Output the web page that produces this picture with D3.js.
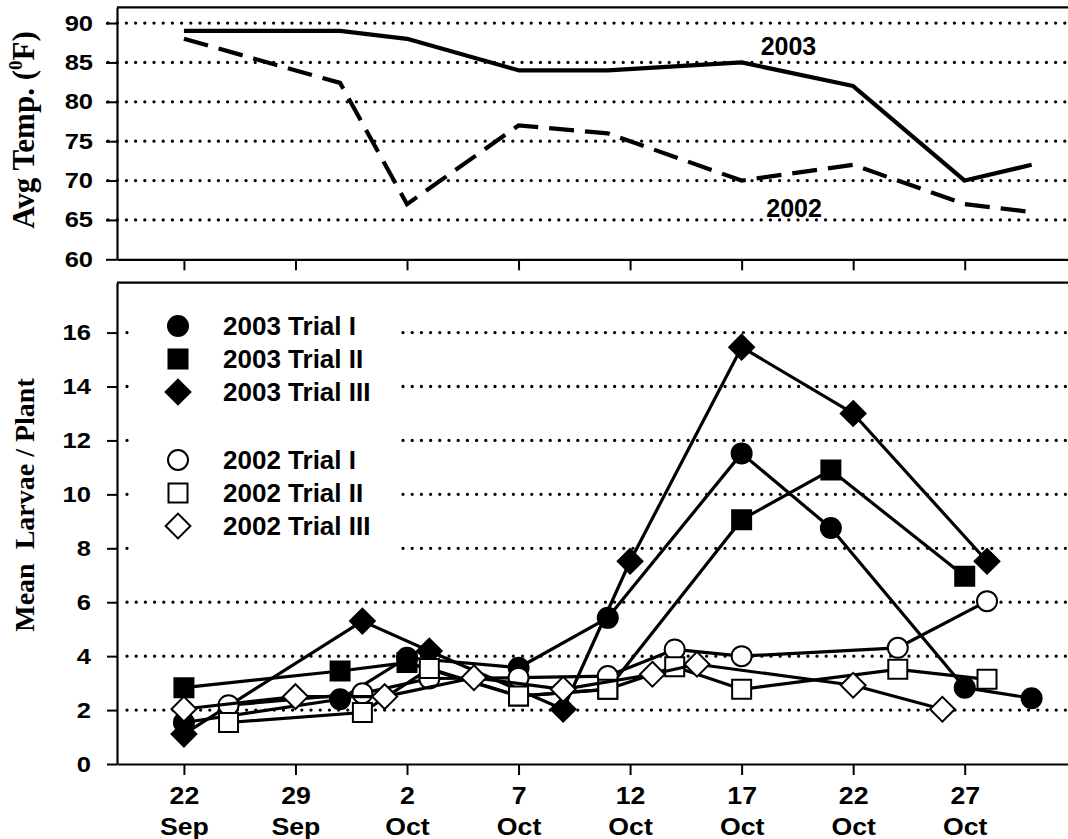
<!DOCTYPE html>
<html>
<head>
<meta charset="utf-8">
<script src="https://cdn.jsdelivr.net/npm/d3@7"></script>
<style>
  body { margin: 0; background: #fff; }
  svg { display: block; }
  .sans { font-family: "Liberation Sans", Arial, sans-serif; font-weight: bold; fill: #000; }
  .serif { font-family: "Liberation Serif", "Times New Roman", serif; font-weight: bold; fill: #000; }
</style>
</head>
<body>
<div id="chart"></div>
<script>
// x values are days counted from the first tick (22 Sep)
const TICK_DAYS = [0, 5, 10, 15, 20, 25, 30, 35];
const TICK_DATES = ['22', '29', '2', '7', '12', '17', '22', '27'];
const TICK_MONTHS = ['Sep', 'Sep', 'Oct', 'Oct', 'Oct', 'Oct', 'Oct', 'Oct'];
const TEMP_TICKS = [60, 65, 70, 75, 80, 85, 90];
const LARVAE_TICKS = [0, 2, 4, 6, 8, 10, 12, 14, 16];

// avg temperature
const TEMP_DAYS = [0, 7, 10, 15, 19, 25, 30, 35, 38];
const TEMP_2003 = [89, 89, 88, 84, 84, 85, 82, 70, 72];
const TEMP_2002 = [88, 82.4, 67, 77, 76, 70, 72, 67, 66];

// mean larvae per plant
const T03_I_DAYS = [0, 7, 10, 15, 19, 25, 29, 35, 38];
const T03_I = [1.54, 2.4, 3.94, 3.57, 5.42, 11.52, 8.75, 2.83, 2.44];
const T03_II_DAYS = [0, 7, 10, 15, 19, 25, 29, 35];
const T03_II = [2.83, 3.45, 3.76, 2.52, 2.77, 9.06, 10.9, 6.96];
const T03_III_DAYS = [0, 8, 11, 17, 20, 25, 30, 36];
const T03_III = [1.11, 5.3, 4.19, 2.03, 7.52, 15.46, 13.0, 7.52];
const T02_I_DAYS = [2, 8, 11, 15, 19, 22, 25, 32, 36];
const T02_I = [2.18, 2.62, 3.17, 3.2, 3.26, 4.25, 4.0, 4.31, 6.04];
const T02_II_DAYS = [2, 8, 11, 15, 19, 22, 25, 32, 36];
const T02_II = [1.54, 1.91, 3.54, 2.52, 2.77, 3.61, 2.77, 3.51, 3.14];
const T02_III_DAYS = [0, 5, 9, 13, 17, 21, 23, 30, 34];
const T02_III = [2.04, 2.5, 2.5, 3.2, 2.77, 3.33, 3.7, 2.92, 2.03];

const SERIES = [
  { name: '2003 Trial I', days: T03_I_DAYS, vals: T03_I, shape: 'circle', fill: '#000' },
  { name: '2003 Trial II', days: T03_II_DAYS, vals: T03_II, shape: 'square', fill: '#000' },
  { name: '2003 Trial III', days: T03_III_DAYS, vals: T03_III, shape: 'diamond', fill: '#000' },
  { name: '2002 Trial I', days: T02_I_DAYS, vals: T02_I, shape: 'circle', fill: '#fff' },
  { name: '2002 Trial II', days: T02_II_DAYS, vals: T02_II, shape: 'square', fill: '#fff' },
  { name: '2002 Trial III', days: T02_III_DAYS, vals: T02_III, shape: 'diamond', fill: '#fff' }
];

const W = 1068, H = 839;
const LEFT = 117;
const TOP_PANEL = { top: 7.3, bottom: 259.3 };
const BOT_PANEL = { top: 282.7, bottom: 764 };
const TICK_STRETCH = 1.16;

const svg = d3.select('#chart').append('svg')
  .attr('width', W).attr('height', H);

const x = d3.scaleLinear().domain([-3, 39.63]).range([LEFT, W]);
const yTemp = d3.scaleLinear().domain([60, 92]).range([TOP_PANEL.bottom, TOP_PANEL.top]);
const yLarv = d3.scaleLinear().domain([0, 17.85]).range([BOT_PANEL.bottom, BOT_PANEL.top]);

function stretchText(sel, k) {
  sel.each(function () {
    const t = d3.select(this);
    const xv = +t.attr('x') || 0;
    t.attr('x', xv / k).attr('transform', `scale(${k},1)`);
  });
}

function grid(g, ys, vals, x0) {
  g.selectAll('line.grid')
    .data(vals)
    .enter()
    .append('line')
    .attr('class', 'grid')
    .attr('x1', x0)
    .attr('x2', W + 5)
    .attr('y1', d => ys(d))
    .attr('y2', d => ys(d))
    .attr('stroke', '#000')
    .attr('stroke-width', 3.3)
    .attr('stroke-linecap', 'round')
    .attr('stroke-dasharray', '0,9.2');
}

function shapePath(shape) {
  if (shape === 'circle') return d3.symbol(d3.symbolCircle, Math.PI * 10 * 10)();
  if (shape === 'square') return d3.symbol(d3.symbolSquare, 19 * 19)();
  const h = 12.4;
  return `M0,${-h}L${h},0L0,${h}L${-h},0Z`;
}

// ---------- top panel: temperature ----------
const tempPanel = svg.append('g');
grid(tempPanel, yTemp, [65, 70, 75, 80, 85, 90], LEFT - 9);

tempPanel.append('line')
  .attr('x1', LEFT).attr('x2', W + 5)
  .attr('y1', TOP_PANEL.top).attr('y2', TOP_PANEL.top)
  .attr('stroke', '#000').attr('stroke-width', 2.2);

const tempLine = d3.line().x((d, i) => x(TEMP_DAYS[i])).y(d => yTemp(d));

tempPanel.append('path')
  .attr('d', tempLine(TEMP_2003))
  .attr('fill', 'none').attr('stroke', '#000')
  .attr('stroke-width', 4.2).attr('stroke-linejoin', 'round');

tempPanel.append('path')
  .attr('d', tempLine(TEMP_2002))
  .attr('fill', 'none').attr('stroke', '#000')
  .attr('stroke-width', 4.2).attr('stroke-dasharray', '25,11');

tempPanel.append('text').attr('class', 'sans')
  .attr('x', x(27.1)).attr('y', yTemp(85.95))
  .attr('text-anchor', 'middle').style('font-size', '25px')
  .text('2003');
tempPanel.append('text').attr('class', 'sans')
  .attr('x', x(27.35)).attr('y', yTemp(65.4))
  .attr('text-anchor', 'middle').style('font-size', '25px')
  .text('2002');

const tempAxis = tempPanel.append('g')
  .attr('transform', `translate(${LEFT},0)`)
  .call(d3.axisLeft(yTemp).tickValues(TEMP_TICKS).tickSize(11).tickSizeOuter(0).tickPadding(13));
const tempX = tempPanel.append('g')
  .attr('transform', `translate(0,${TOP_PANEL.bottom})`)
  .call(d3.axisBottom(x).tickValues(TICK_DAYS).tickSize(11).tickSizeOuter(0).tickFormat(''));

// ---------- bottom panel: larvae ----------
const larvPanel = svg.append('g');
grid(larvPanel, yLarv, LARVAE_TICKS.slice(1), LEFT + 10);

larvPanel.append('line')
  .attr('x1', LEFT).attr('x2', W + 5)
  .attr('y1', BOT_PANEL.top).attr('y2', BOT_PANEL.top)
  .attr('stroke', '#000').attr('stroke-width', 2.2);

// legend box hides the grid behind it
larvPanel.append('rect')
  .attr('x', 131).attr('y', 298)
  .attr('width', 268).attr('height', 258)
  .attr('fill', '#fff');

const larvLine = d3.line().x(d => x(d[0])).y(d => yLarv(d[1]));

SERIES.forEach(s => {
  const pts = s.days.map((d, i) => [d, s.vals[i]]);
  const g = larvPanel.append('g');
  g.append('path')
    .attr('d', larvLine(pts))
    .attr('fill', 'none').attr('stroke', '#000')
    .attr('stroke-width', 3.2).attr('stroke-linejoin', 'round');
  g.selectAll('path.mark')
    .data(pts)
    .enter()
    .append('path')
    .attr('class', 'mark')
    .attr('d', shapePath(s.shape))
    .attr('transform', d => `translate(${x(d[0])},${yLarv(d[1])})`)
    .attr('fill', s.fill)
    .attr('stroke', '#000')
    .attr('stroke-width', 2);
});

// legend
const LEGEND_ROWS = [326, 359, 392, 460, 493, 526];
const legend = larvPanel.append('g').attr('id', 'legend');
SERIES.forEach((s, i) => {
  const row = legend.append('g').attr('transform', `translate(178,${LEGEND_ROWS[i]})`);
  row.append('path')
    .attr('d', shapePath(s.shape))
    .attr('fill', s.fill).attr('stroke', '#000').attr('stroke-width', 2);
  row.append('text').attr('class', 'sans')
    .attr('x', 45).attr('y', 9)
    .style('font-size', '26px')
    .text(s.name);
});

const larvAxis = larvPanel.append('g')
  .attr('transform', `translate(${LEFT},0)`)
  .call(d3.axisLeft(yLarv).tickValues(LARVAE_TICKS).tickSize(10).tickSizeOuter(0).tickPadding(16));
const larvX = larvPanel.append('g')
  .attr('transform', `translate(0,${BOT_PANEL.bottom})`)
  .call(d3.axisBottom(x).tickValues(TICK_DAYS).tickSize(11).tickSizeOuter(0).tickPadding(10));

larvX.selectAll('.tick text').each(function (d, i) {
  const t = d3.select(this);
  t.text(null).attr('y', 40).attr('dy', null);
  t.append('tspan').attr('x', 0).text(TICK_DATES[i]);
  t.append('tspan').attr('x', 0).attr('dy', 31).text(TICK_MONTHS[i]);
});

// axis styling
[tempAxis, tempX, larvAxis, larvX].forEach(a => {
  a.select('.domain').attr('stroke-width', 2.2);
  a.selectAll('.tick line').attr('stroke-width', 2);
  a.selectAll('text')
    .attr('class', 'sans')
    .style('font-size', '22px')
    .attr('fill', '#000');
});
larvX.selectAll('.tick text').style('font-size', '23px');
stretchText(tempAxis.selectAll('.tick text'), TICK_STRETCH);
stretchText(larvAxis.selectAll('.tick text'), TICK_STRETCH);
larvX.selectAll('.tick text')
  .attr('transform', `scale(${TICK_STRETCH},1)`)
  .selectAll('tspan').attr('x', 0);

// y axis titles
const t1 = svg.append('text').attr('class', 'serif')
  .attr('transform', 'translate(34,130) rotate(-90)')
  .attr('text-anchor', 'middle')
  .style('font-size', '31px');
t1.append('tspan').text('Avg Temp. (');
t1.append('tspan').attr('dy', -12).style('font-size', '19px').text('0');
t1.append('tspan').attr('dy', 12).text('F)');

svg.append('text').attr('class', 'serif')
  .attr('transform', 'translate(34,505) rotate(-90)')
  .attr('text-anchor', 'middle')
  .style('font-size', '28px')
  .style('white-space', 'pre')
  .text('Mean  Larvae / Plant');
</script>
</body>
</html>
